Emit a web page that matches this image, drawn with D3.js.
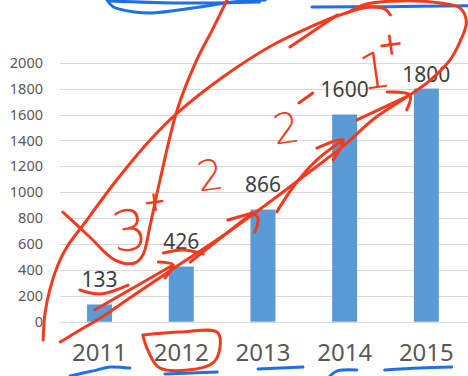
<!DOCTYPE html>
<html>
<head>
<meta charset="utf-8">
<script src="https://cdn.jsdelivr.net/npm/d3@7"></script>
<style>
  html, body { margin: 0; padding: 0; background: #fff; }
  svg { display: block; overflow: hidden; }
</style>
</head>
<body>
<svg id="chart" width="468" height="376"></svg>
<script>
// ---- data ----
const years = ["2011", "2012", "2013", "2014", "2015"];
const values = [133, 426, 866, 1600, 1800];
const yTicks = [0, 200, 400, 600, 800, 1000, 1200, 1400, 1600, 1800, 2000];

// ---- hand-drawn markup, in chart units: [category steps from first bar, value] ----
const redStrokes = [
  // long loop around the bars (right end and lower edge)
  [[3.03,2384],[3.27,2453],[3.68,2477],[4.17,2461],[4.41,2423],[4.49,2315],[4.41,2160],[4.29,2021],[4.05,1866],[3.76,1735],[3.37,1573],[3.00,1365],[2.52,1133],[2.00,886],[1.47,646],[0.95,430],[0.37,183],[0.01,29],[-0.30,-87],[-0.48,-157]],
  // left edge of the loop, sweeping up to the top
  [[-0.69,-141],[-0.67,52],[-0.61,245],[-0.51,438],[-0.40,577],[-0.20,747],[0.21,1094],[0.62,1403],[0.95,1611],[1.51,1890],[2.12,2137],[2.58,2276],[2.94,2368],[3.31,2430],[3.49,2415],[3.56,2368]],
  [[2.33,2121],[2.91,2368]],
  // steep stroke hooking into the cross
  [[1.56,2484],[1.38,2253],[1.19,2021],[0.95,1635],[0.74,1094],[0.62,747],[0.53,515],[0.43,453],[0.19,476],[-0.12,654],[-0.45,847]],
  // underline of the first label and first arrow
  [[-0.24,245],[0.01,214],[0.35,283]],
  [[-0.06,90],[0.90,438]],
  [[0.72,461],[0.90,438],[0.80,338]],
  // underline of the second label and second arrow
  [[0.78,530],[1.02,554],[1.27,523]],
  [[1.11,461],[1.87,839]],
  [[1.57,785],[1.87,839]],
  [[1.87,839],[1.94,801],[1.90,692]],
  // third arrow
  [[2.17,848],[2.37,1040],[2.66,1249],[2.98,1403]],
  [[2.66,1341],[2.98,1403],[2.86,1249]],
  // fourth arrow
  [[3.15,1558],[3.80,1750]],
  [[3.52,1773],[3.80,1750],[3.76,1635]],
  // dash after the second "2"
  [[2.44,1689],[2.61,1766]],
  // box around 2012
  [[0.53,-103],[0.99,-80],[1.45,-87],[1.40,-311],[0.74,-358],[0.59,-218],[0.53,-103]]
];
const blueStrokes = [
  [[0.09,2484],[0.17,2430],[0.43,2392],[0.65,2384],[1.23,2430],[1.63,2469],[2.03,2484]],
  [[0.13,2477],[0.99,2461],[1.96,2469]],
  [[2.60,2430],[3.50,2433],[4.51,2440]],
  [[-0.36,-419],[-0.08,-380],[0.13,-350],[0.37,-358]],
  [[0.80,-404],[1.44,-388]],
  [[1.94,-365],[2.49,-350]],
  [[2.82,-419],[2.91,-380],[3.15,-373]],
  [[3.49,-373],[3.92,-358],[4.31,-350]]
];
const redNotes = [
  { t: "3", at: [0.40, 554], size: 56, weight: 300 },
  { t: "+", at: [0.69, 855], size: 28, weight: 400 },
  { t: "2", at: [1.38, 1017], size: 42, weight: 300 },
  { t: "2", at: [2.31, 1380], size: 42, weight: 300 },
  { t: "1", at: [3.40, 1804], size: 50, weight: 300 },
  { t: "+", at: [3.58, 2063], size: 32, weight: 400 }
];

// ---- layout ----
const W = 468, H = 376;
const margin = { top: 62.7, right: 0.8, bottom: 54.3, left: 58.7 };
const svg = d3.select("#chart");
svg.append("rect").attr("width", W).attr("height", H).attr("fill", "#fff");

const x = d3.scaleBand()
  .domain(years)
  .range([margin.left, W - margin.right])
  .paddingInner(0.694)
  .paddingOuter(0.347);

const y = d3.scaleLinear()
  .domain([0, 2000])
  .range([H - margin.bottom, margin.top]);

const font = "'Noto Sans', 'Open Sans', sans-serif";

// gridlines
svg.append("g")
  .selectAll("line")
  .data(yTicks)
  .join("line")
  .attr("x1", 60).attr("x2", W)
  .attr("y1", d => Math.round(y(d)) + 0.5)
  .attr("y2", d => Math.round(y(d)) + 0.5)
  .attr("stroke", "#d9d9d9")
  .attr("stroke-width", 1);

// y axis labels
const yAxis = d3.axisLeft(y).tickValues(yTicks).tickFormat(d3.format("d")).tickSize(0).tickPadding(0);
svg.append("g")
  .attr("transform", "translate(43,0)")
  .call(yAxis)
  .call(g => g.select(".domain").remove())
  .call(g => g.selectAll("text")
    .attr("fill", "#595959")
    .style("font-family", font)
    .style("font-size", "14.5px"));

// bars
svg.append("g")
  .selectAll("rect")
  .data(values)
  .join("rect")
  .attr("x", (d, i) => x(years[i]))
  .attr("width", x.bandwidth())
  .attr("y", d => y(d))
  .attr("height", d => y(0) - y(d))
  .attr("fill", "#5b9bd5");

// value labels (kept inside the plot area)
svg.append("g")
  .selectAll("text")
  .data(values)
  .join("text")
  .attr("x", (d, i) => x(years[i]) + x.bandwidth() / 2)
  .attr("y", d => Math.max(y(d) - 17.5, y(2000) + 19))
  .attr("text-anchor", "middle")
  .attr("fill", "#404040")
  .style("font-family", font)
  .style("font-size", "21px")
  .text(d => d);

// x axis labels
const xAxis = d3.axisBottom(x).tickSize(0).tickPadding(0);
svg.append("g")
  .attr("transform", `translate(0,${y(0) + 22})`)
  .call(xAxis)
  .call(g => g.select(".domain").remove())
  .call(g => g.selectAll("text")
    .attr("dy", "0.71em")
    .attr("fill", "#595959")
    .style("font-family", font)
    .style("font-size", "24px"));

// ---- ink layer ----
const ux = u => x(years[0]) + x.bandwidth() / 2 + u * x.step();
const ink = d3.line().x(p => ux(p[0])).y(p => y(p[1])).curve(d3.curveCatmullRom.alpha(0.5));

const inkG = svg.append("g").attr("fill", "none")
  .attr("stroke-linecap", "round").attr("stroke-linejoin", "round");

inkG.selectAll("path.blue")
  .data(blueStrokes)
  .join("path")
  .attr("class", "blue")
  .attr("d", ink)
  .attr("stroke", "#1f6fe6")
  .attr("stroke-width", 3);

inkG.selectAll("path.red")
  .data(redStrokes)
  .join("path")
  .attr("class", "red")
  .attr("d", ink)
  .attr("stroke", "#f23a1f")
  .attr("stroke-width", 3);

svg.append("g")
  .selectAll("text")
  .data(redNotes)
  .join("text")
  .attr("x", d => ux(d.at[0]))
  .attr("y", d => y(d.at[1]))
  .attr("text-anchor", "middle")
  .attr("fill", "#f23a1f")
  .style("font-family", "'DejaVu Sans', sans-serif")
  .style("font-weight", d => d.weight)
  .style("font-size", d => d.size + "px")
  .attr("transform", d => `rotate(-8, ${ux(d.at[0])}, ${y(d.at[1])})`)
  .text(d => d.t);
</script>
</body>
</html>
